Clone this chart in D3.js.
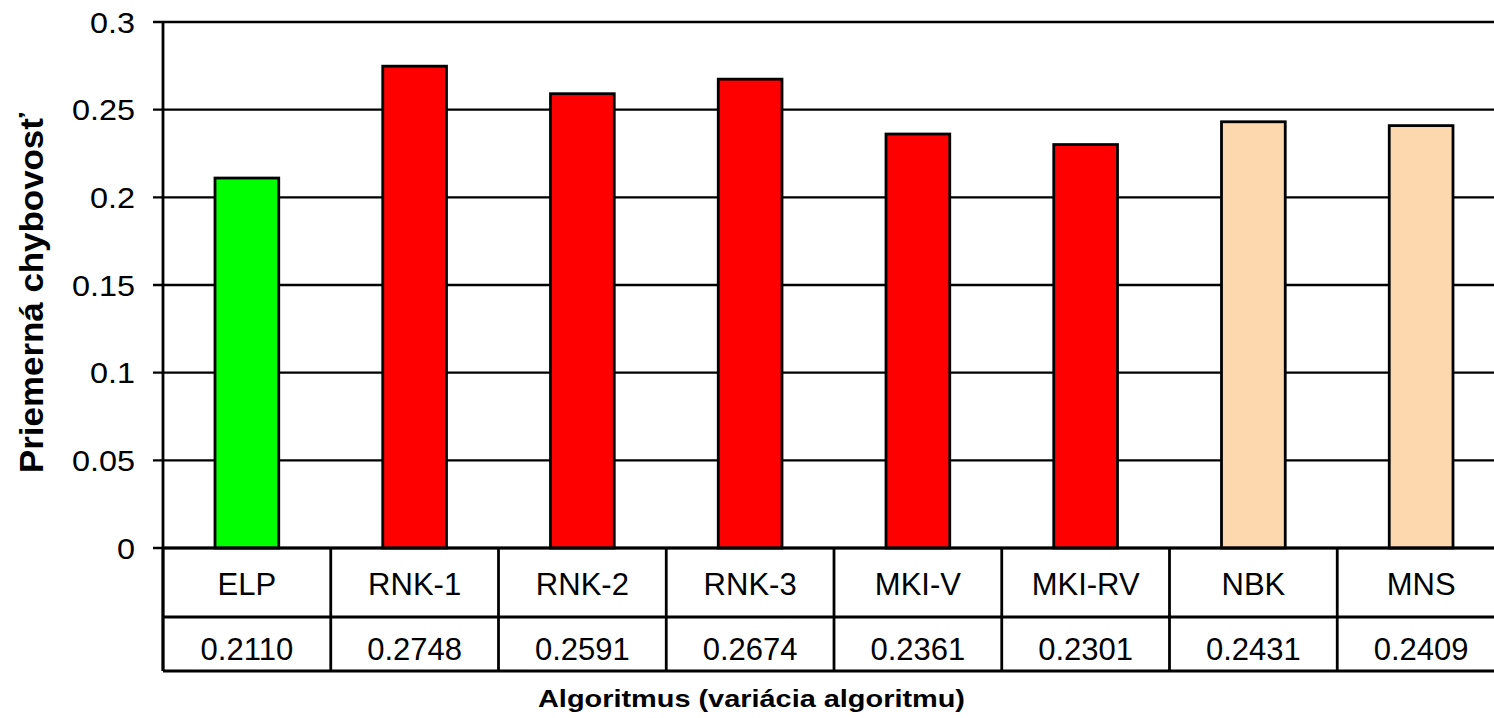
<!DOCTYPE html>
<html>
<head>
<meta charset="utf-8">
<script src="https://cdn.jsdelivr.net/npm/d3@7"></script>
<style>
  html, body { margin: 0; padding: 0; background: #fff; overflow: hidden; }
  text { font-family: "Liberation Sans", Arial, sans-serif; fill: #000; }
</style>
</head>
<body>
<svg id="chart" width="1494" height="718"></svg>
<script>
const categories = ["ELP", "RNK-1", "RNK-2", "RNK-3", "MKI-V", "MKI-RV", "NBK", "MNS"];
const values = [0.2110, 0.2748, 0.2591, 0.2674, 0.2361, 0.2301, 0.2431, 0.2409];
const valueLabels = ["0.2110", "0.2748", "0.2591", "0.2674", "0.2361", "0.2301", "0.2431", "0.2409"];
const groups = ["best", "rnk", "rnk", "rnk", "mki", "mki", "other", "other"];
const yTicks = [0, 0.05, 0.1, 0.15, 0.2, 0.25, 0.3];
const yTitle = "Priemerná chybovosť";
const xTitle = "Algoritmus (variácia algoritmu)";

const colorOf = d3.scaleOrdinal()
  .domain(["best", "rnk", "mki", "other"])
  .range(["#00FF00", "#FF0000", "#FF0000", "#FDD8AF"]);

const svg = d3.select("#chart");
const plotLeft = 163, plotRight = 1505, plotTop = 22, zeroY = 548;
const row1 = 617, row2 = 671;

const x = d3.scaleBand().domain(categories).range([plotLeft, plotRight])
  .paddingInner(0.62).paddingOuter(0.31);
const step = x.step();
const y = d3.scaleLinear().domain([0, 0.3]).range([zeroY, plotTop]);

// gridlines + ticks
svg.append("g").selectAll("line").data(yTicks).join("line")
  .attr("x1", plotLeft - 10).attr("x2", plotRight)
  .attr("y1", d => y(d)).attr("y2", d => y(d))
  .attr("stroke", "#000").attr("stroke-width", 2.4);

// tick labels
svg.append("g").selectAll("text").data(yTicks).join("text")
  .attr("transform", d => `translate(135,${y(d)}) scale(1.08,1)`)
  .attr("dy", "0.35em")
  .attr("text-anchor", "end")
  .attr("font-size", 30)
  .text(d => d3.format("")(d));

// bars
svg.append("g").selectAll("rect").data(categories).join("rect")
  .attr("x", d => x(d))
  .attr("width", x.bandwidth())
  .attr("y", (d, i) => y(values[i]))
  .attr("height", (d, i) => zeroY - y(values[i]))
  .attr("fill", (d, i) => colorOf(groups[i]))
  .attr("stroke", "#000").attr("stroke-width", 2.8);

// y axis line
svg.append("line").attr("x1", plotLeft).attr("x2", plotLeft).attr("y1", plotTop).attr("y2", row2)
  .attr("stroke", "#000").attr("stroke-width", 2.8);

// table
const tbl = svg.append("g");
[zeroY, row1, row2].forEach(yy => {
  tbl.append("line").attr("x1", plotLeft).attr("x2", plotRight).attr("y1", yy).attr("y2", yy)
    .attr("stroke", "#000").attr("stroke-width", 2.8);
});
tbl.selectAll("line.v").data(d3.range(categories.length + 1)).join("line")
  .attr("class", "v")
  .attr("x1", i => plotLeft + i * step).attr("x2", i => plotLeft + i * step)
  .attr("y1", zeroY).attr("y2", row2)
  .attr("stroke", "#000").attr("stroke-width", 2.8);

tbl.selectAll("text.cat").data(categories).join("text")
  .attr("class", "cat")
  .attr("x", d => x(d) + x.bandwidth() / 2)
  .attr("y", 595)
  .attr("text-anchor", "middle")
  .attr("font-size", 31)
  .text(d => d);

tbl.selectAll("text.val").data(valueLabels).join("text")
  .attr("class", "val")
  .attr("x", (d, i) => x(categories[i]) + x.bandwidth() / 2)
  .attr("y", 660)
  .attr("text-anchor", "middle")
  .attr("font-size", 31)
  .text(d => d);

// axis titles
svg.append("text")
  .attr("transform", "translate(43,293) rotate(-90)")
  .attr("text-anchor", "middle")
  .attr("font-size", 34).attr("font-weight", "bold")
  .attr("textLength", 360).attr("lengthAdjust", "spacingAndGlyphs")
  .text(yTitle);

svg.append("text")
  .attr("x", 538).attr("y", 707)
  .attr("font-size", 24).attr("font-weight", "bold")
  .attr("textLength", 427).attr("lengthAdjust", "spacingAndGlyphs")
  .text(xTitle);
</script>
</body>
</html>
